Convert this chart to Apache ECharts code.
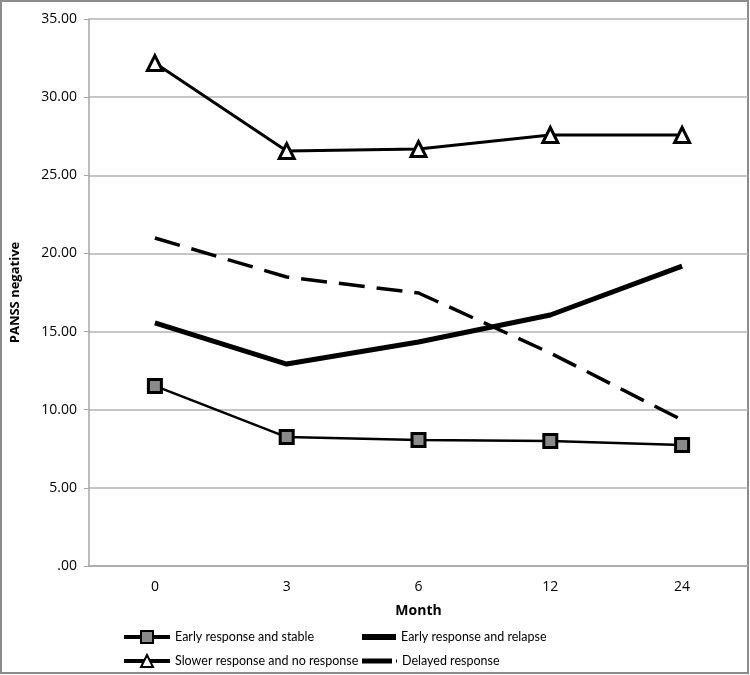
<!DOCTYPE html>
<html><head><meta charset="utf-8">
<script src="https://cdn.jsdelivr.net/npm/echarts@6/dist/echarts.min.js"></script>
<style>html,body{margin:0;padding:0;background:#fff}#c{width:750px;height:675px}</style>
</head><body><div id="c"></div>
<script>
const months = ['0','3','6','12','24'];
const stable = [11.52, 8.25, 8.06, 8.00, 7.74];
const relapse = [15.55, 12.92, 14.33, 16.06, 19.19];
const slower = [32.18, 26.55, 26.68, 27.58, 27.58];
const delayed = [20.99, 18.49, 17.47, 13.63, 9.34];
const names = ['Early response and stable','Early response and relapse','Slower response and no response','Delayed response'];

const font = 'Open Sans, Liberation Sans, sans-serif';
const legText = {fontFamily:'Lato, sans-serif', fontSize:12.5, color:'#000', lineHeight:18};
const chart = echarts.init(document.getElementById('c'));
chart.setOption({
  animation: false,
  graphic: [{type:'rect', shape:{x:1,y:1,width:747,height:672}, style:{fill:'none', stroke:'#8c8c8c', lineWidth:2}, silent:true, z:-1}],
  grid: {left: 89, right: 2, top: 19, bottom: 109},
  legend: [
    {left:122, top:628, padding:0, itemWidth:46, itemHeight:15, selectedMode:false,
     lineStyle:{width:4}, textStyle:legText, data:[names[0]]},
    {left:122, top:652, padding:0, itemWidth:46, itemHeight:15, selectedMode:false,
     lineStyle:{width:4}, textStyle:legText, data:[names[2]]},
    {left:362, top:628, padding:0, itemWidth:34, itemHeight:6, selectedMode:false,
     textStyle:legText, data:[{name:names[1], icon:'rect'}]},
    {left:362, top:652, padding:0, itemWidth:35, itemHeight:6, selectedMode:false,
     textStyle:legText, data:[{name:names[3], icon:'path://M0,0H30V5H0Z M34,1H35V4H34Z'}]}
  ],
  xAxis: {
    type:'category', data: months, boundaryGap:true,
    name:'Month', nameLocation:'middle', nameGap:38,
    nameTextStyle:{fontFamily:font, fontSize:14, fontWeight:'bold', color:'#000'},
    axisLine:{lineStyle:{color:'#a6a6a6', width:1.5}},
    axisTick:{show:false},
    axisLabel:{fontFamily:font, fontSize:14, color:'#000', margin:14}
  },
  yAxis: {
    type:'value', min:0, max:35, interval:5,
    name:'PANSS negative', nameLocation:'middle', nameGap:67, nameRotate:90,
    nameTextStyle:{fontFamily:font, fontSize:13, fontWeight:'bold', color:'#000'},
    axisLine:{show:true, lineStyle:{color:'#a6a6a6', width:1.5}},
    axisTick:{show:true, length:5, lineStyle:{color:'#a6a6a6'}},
    axisLabel:{fontFamily:font, fontSize:14, color:'#000', margin:12,
      formatter: v => v === 0 ? '.00' : v.toFixed(2)},
    splitLine:{lineStyle:{color:'#b3b3b3', width:1.5}}
  },
  series: [
    {name:names[0], type:'line', data:stable, symbol:'rect', symbolSize:13,
     lineStyle:{color:'#000', width:2.5}, itemStyle:{color:'#8a8a8a', borderColor:'#000', borderWidth:3}, z:4},
    {name:names[1], type:'line', data:relapse, showSymbol:false, symbol:'none',
     lineStyle:{color:'#000', width:5}, itemStyle:{color:'#000'}},
    {name:names[2], type:'line', data:slower, symbol:'triangle', symbolSize:15,
     lineStyle:{color:'#000', width:3}, itemStyle:{color:'#fff', borderColor:'#000', borderWidth:3}, z:4},
    {name:names[3], type:'line', data:delayed, showSymbol:false, symbol:'none',
     lineStyle:{color:'#000', width:3.5, type:[26,12]}, itemStyle:{color:'#000'}}
  ]
});
</script></body></html>
